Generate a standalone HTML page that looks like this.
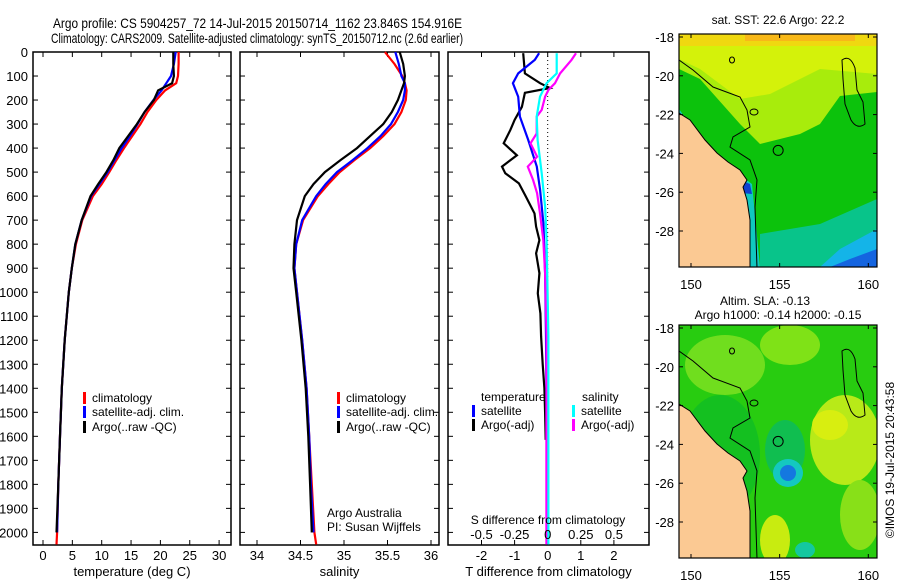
<!DOCTYPE html>
<html><head><meta charset="utf-8"><style>
html,body{margin:0;padding:0;background:#fff;}
svg{display:block;font-family:"Liberation Sans",sans-serif;}
</style></head><body>
<svg id="chart" width="900" height="580" viewBox="0 0 900 580" xmlns="http://www.w3.org/2000/svg">
<text x="53" y="28" font-size="14" textLength="409" lengthAdjust="spacingAndGlyphs">Argo profile: CS 5904257_72 14-Jul-2015 20150714_1162 23.846S 154.916E</text>
<text x="51" y="43" font-size="14" textLength="412" lengthAdjust="spacingAndGlyphs">Climatology: CARS2009. Satellite-adjusted climatology: synTS_20150712.nc (2.6d earlier)</text>
<g id="maps"></g>
<g id="panels"></g>
</svg>
<script>
// ---- data ----
const depthProfile = [0,50,100,130,160,200,250,300,350,400,450,500,550,600,700,800,900,1000,1200,1400,1600,1800,2000,2050];
const tempClim = [23.1,23.1,23.0,22.7,20.8,19.3,17.8,16.6,15.2,13.8,12.5,11.3,10.0,8.5,6.7,5.6,4.9,4.4,3.7,3.2,2.9,2.6,2.4,2.3];
const tempSat = [22.6,22.3,21.8,21.0,20.2,18.8,17.3,16.1,14.8,13.4,12.2,11.0,9.6,8.2,6.6,5.5,4.9,4.4,3.7,3.2,2.9,2.6,2.4];
const tempArgo = [22.2,22.2,22.3,22.0,19.6,18.9,17.3,16.0,14.5,13.0,12.0,10.8,9.4,8.1,6.6,5.5,4.9,4.4,3.7,3.2,2.9,2.6,2.3];
const salClim = [35.47,35.58,35.67,35.70,35.72,35.71,35.66,35.58,35.45,35.30,35.12,34.95,34.82,34.70,34.53,34.45,34.43,34.46,34.52,34.57,34.60,34.63,34.66,34.68];
const salSat = [35.59,35.63,35.66,35.70,35.70,35.68,35.62,35.54,35.42,35.27,35.10,34.92,34.79,34.68,34.52,34.45,34.43,34.46,34.52,34.57,34.60,34.62,34.65];
const salArgo = [35.64,35.68,35.70,35.69,35.66,35.62,35.55,35.45,35.30,35.15,34.96,34.78,34.65,34.55,34.46,34.43,34.42,34.45,34.51,34.56,34.59,34.61,34.63];
const dTArgoDepth = [5,89,130,150,170,228,283,325,380,430,477,505,547,602,672,727,783,838,921,1005,1088,1185,1300,1400,1500,1615];
const dTArgo = [-0.74,-0.69,-0.23,0.07,-0.69,-0.78,-1.0,-1.13,-1.33,-0.93,-1.38,-1.28,-0.87,-0.66,-0.40,-0.35,-0.25,-0.35,-0.25,-0.30,-0.22,-0.20,-0.15,-0.10,-0.08,-0.06];
const dTSatDepth = [5,33,89,130,186,269,366,477,574,713,921,1185,1400,1615];
const dTSat = [-0.26,-0.39,-0.89,-1.05,-0.89,-0.84,-0.59,-0.33,-0.23,-0.13,-0.08,-0.05,-0.04,-0.03];
const dSSatDepth = [5,89,130,186,269,366,505,644,783,1185,1600,2050];
const dSSat = [0.068,0.068,-0.008,-0.058,-0.083,-0.076,-0.045,-0.02,-0.008,0.005,0.005,0.005];
const dSArgoDepth = [5,33,89,130,158,186,241,269,339,380,436,477,533,588,672,783,921,1185,1600,2050];
const dSArgo = [0.214,0.18,0.094,0.055,0.005,-0.02,-0.045,-0.083,-0.083,-0.13,-0.08,-0.15,-0.11,-0.08,-0.058,-0.033,-0.02,-0.008,-0.01,-0.01];
const depthTicks = [0,100,200,300,400,500,600,700,800,900,1000,1100,1200,1300,1400,1500,1600,1700,1800,1900,2000];
const tempTicks = [0,5,10,15,20,25,30];
const salTicks = [34,34.5,35,35.5,36];
const dTTicks = [-2,-1,0,1,2];
const dSTicks = [-0.5,-0.25,0,0.25,0.5];
const lonTicks = [150,155,160];
const latTicks = [-18,-20,-22,-24,-26,-28];

const NS = 'http://www.w3.org/2000/svg';
function mk(tag, attrs, parent, text){
  const e = document.createElementNS(NS, tag);
  for (const k in attrs) e.setAttribute(k, attrs[k]);
  if (text !== undefined) e.textContent = text;
  parent.appendChild(e); return e;
}
const P = document.getElementById('panels');
const TOP = 52, BOT = 545;
const yD = d => 52 + d*0.2402;

function panel(name, left, right, xf, ticks, labFmt, labelText){
  const g = mk('g', {}, P);
  
  
  const r = mk('rect', {x:left, y:TOP, width:right-left, height:BOT-TOP, fill:'none', stroke:'#000', 'stroke-width':1.5}, g);
  
  
  depthTicks.forEach(d => {
    const y = yD(d);
    mk('line', {x1:left, x2:left+5, y1:y, y2:y, stroke:'#000'}, g);
    mk('line', {x1:right-5, x2:right, y1:y, y2:y, stroke:'#000'}, g);
  });
  if (ticks) ticks.forEach(v => {
    const x = xf(v);
    mk('line', {x1:x, x2:x, y1:BOT, y2:BOT-5, stroke:'#000'}, g);
    mk('line', {x1:x, x2:x, y1:TOP, y2:TOP+5, stroke:'#000'}, g);
    const t = mk('text', {x:x, y:BOT+15, 'font-size':13, 'text-anchor':'middle'}, g, labFmt(v));
    
    
  });
  if (labelText){
    const t = mk('text', {x:(left+right)/2, y:576, 'font-size':13, 'text-anchor':'middle'}, g, labelText);
    
    
  }
  return g;
}
function line(g, xs, ds, xf, color, name){
  const pts = xs.map((v,i) => xf(v).toFixed(1) + ',' + yD(ds[i]).toFixed(1)).join(' ');
  const p = mk('polyline', {points:pts, fill:'none', stroke:color, 'stroke-width':2.2, 'stroke-linejoin':'miter'}, g);
  
  
}
function legend(g, x, y, color, label, name){
  mk('rect', {x:x, y:y-10, width:3, height:12, fill:color}, g);
  const t = mk('text', {x:x+9, y:y, 'font-size':12}, g, label);
  
  
}

const yl = mk('g', {}, P);


depthTicks.forEach(d => {
  const t = mk('text', {x:28, y:yD(d)+5, 'font-size':13, 'text-anchor':'end'}, yl, String(d));
  
  
});

const xT = v => 43 + v*5.87;
const g1 = panel('temperature-panel', 33, 231, xT, tempTicks, String, 'temperature (deg C)');
line(g1, tempClim, depthProfile, xT, '#ff0000', 'temp-climatology-line');
line(g1, tempSat, depthProfile, xT, '#0000ff', 'temp-satellite-line');
line(g1, tempArgo, depthProfile, xT, '#000000', 'temp-argo-line');
legend(g1, 83, 402, '#ff0000', 'climatology', 'legend-climatology');
legend(g1, 83, 416, '#0000ff', 'satellite-adj. clim.', 'legend-satellite');
legend(g1, 83, 431, '#000000', 'Argo(..raw -QC)', 'legend-argo');

const xS = v => 257 + (v-34)*87;
const g2 = panel('salinity-panel', 240, 439, xS, salTicks, String, 'salinity');
line(g2, salClim, depthProfile, xS, '#ff0000', 'sal-climatology-line');
line(g2, salSat, depthProfile, xS, '#0000ff', 'sal-satellite-line');
line(g2, salArgo, depthProfile, xS, '#000000', 'sal-argo-line');
legend(g2, 337, 402, '#ff0000', 'climatology', 'legend-climatology');
legend(g2, 337, 416, '#0000ff', 'satellite-adj. clim.', 'legend-satellite');
legend(g2, 337, 431, '#000000', 'Argo(..raw -QC)', 'legend-argo');
mk('text', {x:327, y:517, 'font-size':12}, g2, 'Argo Australia');
mk('text', {x:327, y:531, 'font-size':12}, g2, 'PI: Susan Wijffels');

const xdT = v => 547.7 + v*33.1;
const xdS = v => 547.7 + v*132.4;
const g3 = panel('difference-panel', 448, 649, xdT, dTTicks, String, 'T difference from climatology');
mk('line', {x1:547.7, x2:547.7, y1:TOP, y2:BOT, stroke:'#000', 'stroke-dasharray':'1,3'}, g3);
line(g3, dTArgo, dTArgoDepth, xdT, '#000000', 'dT-argo-line');
line(g3, dTSat, dTSatDepth, xdT, '#0000ff', 'dT-satellite-line');
line(g3, dSArgo, dSArgoDepth, xdS, '#ff00ff', 'dS-argo-line');
line(g3, dSSat, dSSatDepth, xdS, '#00ffff', 'dS-satellite-line');
dSTicks.forEach(v => {
  const t = mk('text', {x:xdS(v), y:539, 'font-size':13, 'text-anchor':'middle'}, g3, String(v));
  
  
});
mk('text', {x:548, y:524, 'font-size':12, 'text-anchor':'middle'}, g3, 'S difference from climatology');
mk('text', {x:481, y:401, 'font-size':12}, g3, 'temperature');
mk('text', {x:582, y:401, 'font-size':12}, g3, 'salinity');
legend(g3, 472, 415, '#0000ff', 'satellite', 'legend-T-satellite');
legend(g3, 472, 429, '#000000', 'Argo(-adj)', 'legend-T-argo');
legend(g3, 572, 415, '#00ffff', 'satellite', 'legend-S-satellite');
legend(g3, 572, 429, '#ff00ff', 'Argo(-adj)', 'legend-S-argo');

const M = document.getElementById('maps');
const lx = lon => 691 + (lon-150)*17.73;
function drawMap(name, top, title1, title2, fills){
  const ly = lat => top + 3 + (-18-lat)*19.4;
  const g = mk('g', {}, M);
  
  
  const cid = name + '-clip';
  const cp = mk('clipPath', {id:cid}, g);
  mk('rect', {x:679, y:top, width:198, height:233}, cp);
  const inner = mk('g', {'clip-path':'url(#'+cid+')'}, g);
  fills(inner, top);
  const coast = [[679,113],[690,120],[705,140],[717,153],[728,162],[740,170],[747,180],[743,187],[747,200],[750,220],[750,240],[750,268]].map(p=>[p[0], p[1]-34+top]);
  const land = mk('polygon', {points:[[679,top+240]].concat(coast).concat([[679,top+240]]).map(p=>p.join(',')).join(' '), fill:'#fbc993'}, inner);
  
  
  mk('polyline', {points:coast.map(p=>p.join(',')).join(' '), fill:'none', stroke:'#000', 'stroke-width':1}, inner);
  const iso = [[679,60],[693,70],[713,87],[740,97],[747,110],[750,127],[733,137],[730,147],[750,160],[757,180],[755,207],[757,268]].map(p=>[p[0], p[1]-34+top]);
  mk('polyline', {points:iso.map(p=>p.join(',')).join(' '), fill:'none', stroke:'#000', 'stroke-width':1}, inner);
  mk('path', {d:`M842 ${top+26} q8 -6 13 8 l2 22 l6 12 l2 22 q-8 6 -14 -4 l-6 -16 l-2 -25 z`, fill:'none', stroke:'#000', 'stroke-width':1}, inner);
  mk('ellipse', {cx:754, cy:top+78, rx:4, ry:3, fill:'none', stroke:'#000'}, inner);
  mk('ellipse', {cx:732, cy:top+26, rx:2.5, ry:3, fill:'none', stroke:'#000'}, inner);
  const c = mk('circle', {cx:lx(154.916), cy:ly(-23.846), r:5, fill:'none', stroke:'#000', 'stroke-width':1}, inner);
  
  
  const fr = mk('rect', {x:679, y:top, width:198, height:233, fill:'none', stroke:'#000', 'stroke-width':1.2}, g);
  
  
  lonTicks.forEach(v => {
    mk('line', {x1:lx(v), x2:lx(v), y1:top+233, y2:top+229, stroke:'#000'}, g);
    mk('line', {x1:lx(v), x2:lx(v), y1:top, y2:top+4, stroke:'#000'}, g);
    mk('text', {x:lx(v), y:top+255, 'font-size':13, 'text-anchor':'middle'}, g, String(v));
  });
  latTicks.forEach(v => {
    mk('line', {x1:679, x2:683, y1:ly(v), y2:ly(v), stroke:'#000'}, g);
    mk('line', {x1:873, x2:877, y1:ly(v), y2:ly(v), stroke:'#000'}, g);
    mk('text', {x:674, y:ly(v)+5, 'font-size':13, 'text-anchor':'end'}, g, String(v));
  });
  const t1 = mk('text', {x:title2?765:778, y:title2?top-20:top-10, 'font-size':12, 'text-anchor':'middle'}, g, title1);
  
  
  if (title2) mk('text', {x:778, y:top-6, 'font-size':12, 'text-anchor':'middle'}, g, title2);
}
drawMap('sst-map', 34, 'sat. SST: 22.6 Argo: 22.2', null, (g, top) => {
  mk('rect', {x:679, y:top, width:198, height:233, fill:'#0cc20c'}, g);
  mk('polygon', {points:`679,${top} 877,${top} 877,${top+58} 840,${top+62} 820,${top+90} 800,${top+100} 760,${top+110} 740,${top+90} 700,${top+45} 679,${top+35}`, fill:'#a8ec0c'}, g);
  mk('polygon', {points:`679,${top} 877,${top} 877,${top+40} 820,${top+35} 770,${top+60} 740,${top+65} 700,${top+35} 679,${top+25}`, fill:'#d4f20a'}, g);
  mk('rect', {x:679, y:top, width:198, height:12, fill:'#f0d810'}, g);
  mk('rect', {x:745, y:top, width:110, height:7, fill:'#f8b818'}, g);
  mk('polygon', {points:`760,${top+233} 760,${top+200} 820,${top+190} 877,${top+165} 877,${top+233}`, fill:'#08c48a'}, g);
  mk('polygon', {points:`820,${top+233} 840,${top+215} 877,${top+195} 877,${top+233}`, fill:'#14b4e8'}, g);
  mk('polygon', {points:`830,${top+233} 850,${top+225} 877,${top+215} 877,${top+233}`, fill:'#1464e0'}, g);
  mk('polygon', {points:`679,${top+75} 700,${top+105} 725,${top+130} 752,${top+150} 760,${top+233} 740,${top+233} 679,${top+233}`, fill:'#10c8c0'}, g);
  mk('polygon', {points:`725,${top+140} 750,${top+150} 752,${top+160} 730,${top+158}`, fill:'#1040d0'}, g);
});
drawMap('sla-map', 325, 'Altim. SLA: -0.13', 'Argo h1000: -0.14 h2000: -0.15', (g, top) => {
  mk('rect', {x:679, y:top, width:198, height:233, fill:'#28cc10'}, g);
  mk('ellipse', {cx:725, cy:top+40, rx:40, ry:30, fill:'#78e020', opacity:0.9}, g);
  mk('ellipse', {cx:790, cy:top+20, rx:30, ry:20, fill:'#88e418', opacity:0.9}, g);
  mk('ellipse', {cx:845, cy:top+115, rx:35, ry:45, fill:'#b8ea18'}, g);
  mk('ellipse', {cx:830, cy:top+100, rx:18, ry:15, fill:'#d8ee10'}, g);
  mk('ellipse', {cx:860, cy:top+190, rx:20, ry:35, fill:'#88e018'}, g);
  mk('ellipse', {cx:775, cy:top+215, rx:15, ry:25, fill:'#c8ec10'}, g);
  mk('ellipse', {cx:785, cy:top+125, rx:20, ry:30, fill:'#10be50'}, g);
  mk('ellipse', {cx:788, cy:top+148, rx:15, ry:14, fill:'#14c8c0'}, g);
  mk('ellipse', {cx:788, cy:top+148, rx:8, ry:8, fill:'#1478e0'}, g);
  mk('ellipse', {cx:805, cy:top+225, rx:10, ry:8, fill:'#14c8a0'}, g);
  mk('ellipse', {cx:720, cy:top+130, rx:40, ry:60, fill:'#14c020'}, g);
});
const ts = mk('text', {x:0, y:0, 'font-size':12, 'text-anchor':'middle', transform:'translate(894,460) rotate(-90)'}, M, '©IMOS 19-Jul-2015 20:43:58');


</script>
</body></html>
